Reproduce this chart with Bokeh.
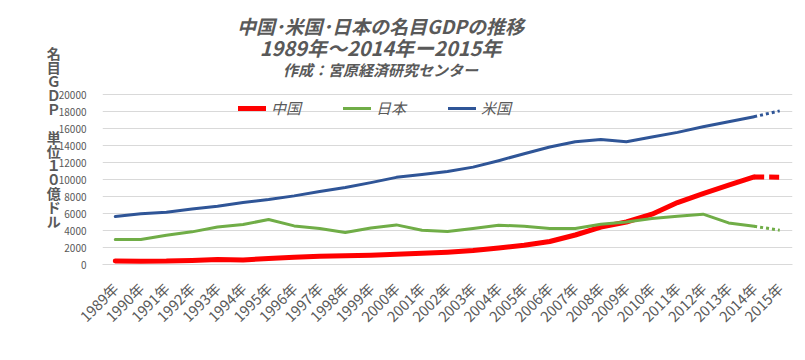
import math
from bokeh.plotting import figure
from bokeh.models import Range1d, FixedTicker, Legend, Label
from bokeh.embed import file_html
from bokeh.resources import INLINE

years = list(range(1989, 2016))
year_labels = [f"{y}年" for y in years]
china = [420, 390, 400, 480, 600, 540, 720, 860, 960, 1030, 1090, 1200, 1320, 1450, 1640, 1930, 2260, 2710, 3470, 4400, 5000, 5920, 7290, 8350, 9330, 10300, 10270]
japan = [2940, 2940, 3450, 3840, 4420, 4700, 5290, 4540, 4240, 3760, 4300, 4660, 4040, 3880, 4240, 4620, 4500, 4240, 4240, 4740, 5010, 5410, 5680, 5920, 4890, 4500, 4040]
usa = [5641, 5963, 6158, 6520, 6859, 7287, 7640, 8073, 8578, 9063, 9631, 10252, 10582, 10936, 11458, 12214, 13037, 13815, 14452, 14713, 14449, 14992, 15543, 16197, 16785, 17393, 18070]
y_ticks = list(range(0, 20001, 2000))

FONT = "Noto Sans CJK JP"
GRAY = "#595959"

# frame: 690 px wide, 256 px tall; 0..20000 occupies the lower 170 px,
# the headroom above holds the titles
Y_TOP = 20000 * 256 / 170

p = figure(width=797, height=352, output_backend="svg", toolbar_location=None,
           title_location=None,
           x_range=Range1d(1988.5, 2015.5), y_range=Range1d(0, Y_TOP),
           min_border_left=102, min_border_right=5, min_border_top=8, min_border_bottom=88)
p.outline_line_color = None
p.xgrid.grid_line_color = None
p.ygrid.grid_line_color = "#d9d9d9"
p.ygrid.ticker = FixedTicker(ticks=y_ticks)

p.yaxis.ticker = FixedTicker(ticks=y_ticks)
p.yaxis.axis_line_color = None
p.yaxis.major_tick_line_color = None
p.yaxis.minor_tick_line_color = None
p.yaxis.major_label_text_font = FONT
p.yaxis.major_label_text_font_size = "10px"
p.yaxis.major_label_text_color = GRAY
p.yaxis.major_label_standoff = 10
p.yaxis.axis_label = "名\n目\nＧ\nＤ\nＰ\n　\n単\n位\n１\n０\n億\nド\nル"
p.yaxis.axis_label_orientation = "horizontal"
p.yaxis.axis_label_text_font = FONT
p.yaxis.axis_label_text_font_size = "14px"
p.yaxis.axis_label_text_font_style = "bold"
p.yaxis.axis_label_text_color = GRAY
p.yaxis.axis_label_text_line_height = 0.70
p.yaxis.axis_label_standoff = -5

p.xaxis.ticker = FixedTicker(ticks=years)
p.xaxis.major_label_overrides = {y: l for y, l in zip(years, year_labels)}
p.xaxis.axis_line_color = "#d9d9d9"
p.xaxis.major_tick_line_color = None
p.xaxis.minor_tick_line_color = None
p.xaxis.major_label_orientation = math.pi / 4
p.xaxis.major_label_text_font = FONT
p.xaxis.major_label_text_font_size = "14.5px"
p.xaxis.major_label_text_color = GRAY
p.xaxis.major_label_standoff = 15

# solid parts (1989-2014)
r_cn = p.line(years[:-1], china[:-1], line_color="#ff0000", line_width=5, line_cap="round", line_join="round")
r_jp = p.line(years[:-1], japan[:-1], line_color="#70ad47", line_width=3, line_cap="round", line_join="round")
r_us = p.line(years[:-1], usa[:-1], line_color="#2f5597", line_width=3, line_cap="round", line_join="round")
# projected parts (2014-2015)
p.line(years[-2:], china[-2:], line_color="#ff0000", line_width=5, line_dash="10 5")
p.line(years[-2:], japan[-2:], line_color="#70ad47", line_width=3, line_dash="3 3")
p.line(years[-2:], usa[-2:], line_color="#2f5597", line_width=3, line_dash="3 3")

legend = Legend(items=[("中国", [r_cn]), ("日本", [r_jp]), ("米国", [r_us])],
                orientation="horizontal", location=(136, 146),
                background_fill_alpha=0, border_line_color=None,
                padding=0, margin=0, spacing=42, glyph_width=28, glyph_height=16,
                label_height=16, label_standoff=5,
                label_text_font=FONT, label_text_font_size="15px",
                label_text_font_style="italic", label_text_color=GRAY)
p.add_layout(legend, "center")

# titles (placed in the headroom of the frame)
TX = 1988.5 + (380 - 102) / 690 * 27
px_per_unit = 170 / 20000
titles = [("中国･米国･日本の名目GDPの推移", 25, "19px"),
          ("1989年～2014年ー2015年", 47, "20px"),
          ("作成：宮原経済研究センター", 69, "15px")]
for t, ypix, fs in titles:
    p.add_layout(Label(x=TX, y=(264 - ypix) / px_per_unit, text=t,
                       text_font=FONT, text_font_size=fs, text_font_style="bold italic",
                       text_color=GRAY, text_align="center", text_baseline="middle"))

open("out.html", "w").write(file_html(p, INLINE))
